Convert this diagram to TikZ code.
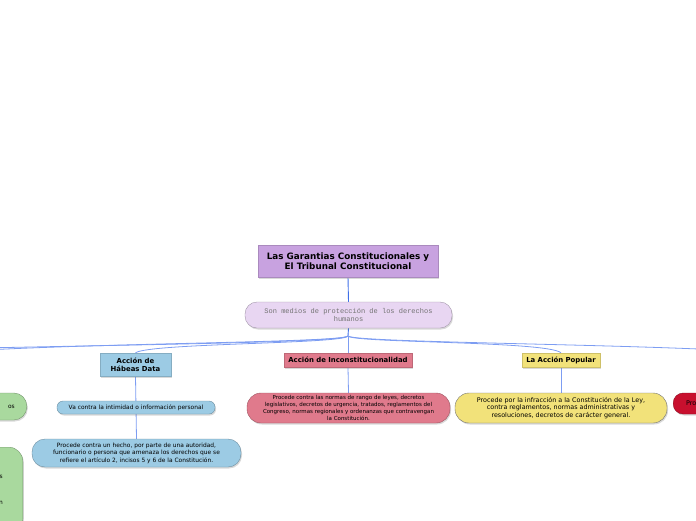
\documentclass[tikz,border=0pt]{standalone}
\usepackage{fontspec}
\setmainfont{DejaVu Sans}
\newfontfamily\medmono{Liberation Mono}
\usetikzlibrary{shadows,backgrounds}

\definecolor{titlepurple}{HTML}{C8A2E0}
\definecolor{palepurple}{HTML}{E8D6F2}
\definecolor{skyblue}{HTML}{9CCBE4}
\definecolor{rosered}{HTML}{E07A8C}
\definecolor{sunyellow}{HTML}{F2E27A}
\definecolor{crimson}{HTML}{C8102E}
\definecolor{leafgreen}{HTML}{A9D99E}
\definecolor{linkblue}{HTML}{7D9DF2}
\definecolor{stemblue}{HTML}{3F6FE8}

\tikzset{
  soft shadow/.style={drop shadow={opacity=.3, shadow xshift=1pt, shadow yshift=-1.5pt}},
  maintopic/.style={rectangle, fill=titlepurple, draw=titlepurple!85!black, thin,
    font=\fontsize{8.8}{10.5}\selectfont\bfseries, align=center, inner sep=0pt,
    minimum width=180pt, minimum height=32pt, soft shadow},
  subtopic/.style={rectangle, fill=#1, draw=#1!85!black, thin,
    font=\fontsize{6.9}{8}\selectfont\bfseries, align=center, inner sep=0pt, soft shadow},
  detail/.style={fill=#1, draw=#1!70!black, thin, align=center, inner sep=0pt, soft shadow},
  link/.style={draw=linkblue, line width=.8pt},
  stem/.style={draw=stemblue, line width=.9pt}
}

\begin{document}
\begin{tikzpicture}[x=1pt, y=-1pt]
  \useasboundingbox (0,0) rectangle (696,520);
  \clip (0,0) rectangle (696,520);

  % central topic
  \node[maintopic] (title) at (348,261) {Las Garantias Constitucionales y\\El Tribunal Constitucional};
  \node[detail=palepurple, rounded corners=12pt, minimum width=207pt, minimum height=26pt,
        font=\medmono\fontsize{7}{8}\selectfont, text=black!55] (medios) at (348.5,315)
        {Son medios de protección de los derechos\\humanos};
  \coordinate (hub) at (348,336);

  % branches
  \node[subtopic=skyblue, minimum width=71pt, minimum height=23pt] (habeas) at (135.5,364.5) {Acción de\\Hábeas Data};
  \node[subtopic=rosered, minimum width=128pt, minimum height=14pt] (inconst) at (348,360) {Acción de Inconstitucionalidad};
  \node[subtopic=sunyellow, minimum width=78pt, minimum height=14pt] (popular) at (561,360) {La Acción Popular};

  % details
  \node[detail=skyblue, rounded corners=6pt, minimum width=158pt, minimum height=13pt,
        font=\fontsize{5.9}{7}\selectfont] (intimidad) at (136,407.5)
        {Va contra la intimidad o información personal};
  \node[detail=skyblue, rounded corners=13pt, minimum width=209pt, minimum height=28pt,
        font=\fontsize{5.9}{7.5}\selectfont] (hecho) at (136.5,453)
        {Procede contra un hecho, por parte de una autoridad,\\funcionario o persona que amenaza los derechos que se\\refiere el artículo 2, incisos 5 y 6 de la Constitución.};
  \node[detail=rosered, rounded corners=14pt, minimum width=203pt, minimum height=30pt,
        font=\fontsize{5.5}{6.8}\selectfont] (normas) at (348.5,408)
        {Procede contra las normas de rango de leyes, decretos\\legislativos, decretos de urgencia, tratados, reglamentos del\\Congreso, normas regionales y ordenanzas que contravengan\\la Constitución.};
  \node[detail=sunyellow, draw=black!55, rounded corners=14pt, minimum width=212pt, minimum height=30pt,
        font=\fontsize{6.4}{7.7}\selectfont] (infraccion) at (561,408)
        {Procede por la infracción a la Constitución de la Ley,\\contra reglamentos, normas administrativas y\\resoluciones, decretos de carácter general.};

  % nodes cut by the frame
  \node[detail=crimson, rounded corners=10pt, anchor=west, minimum height=21pt, text width=100pt,
        align=left, inner xsep=13pt, font=\fontsize{6.4}{7.5}\selectfont] (procede) at (673,403.5) {Procede};
  \node[detail=leafgreen, rounded corners=13pt, anchor=east, minimum height=27pt, text width=80pt,
        align=right, inner xsep=12pt, font=\fontsize{5.9}{7}\selectfont] (greenA) at (27,406.5) {os};
  \node[detail=leafgreen, rounded corners=14pt, anchor=north east, minimum height=86pt, text width=80pt,
        align=right, inner xsep=20pt, font=\fontsize{5.9}{7}\selectfont] (greenB) at (23,447) {s\\[19pt]n};

  \coordinate (offA) at (-60,353);
  \coordinate (offB) at (-220,353);
  \coordinate (offC) at (770,353);

  % connectors
  \begin{scope}[on background layer]
    \draw[stem] (title.south) -- (medios.north);
    \draw[stem] (medios.south) -- (hub);
    \draw[link] (hub) .. controls (344,344) and (150,343) .. (habeas.north);
    \draw[link] (hub) .. controls (342,343) and (60,343) .. (offA);
    \draw[link] (hub) .. controls (340,344) and (40,345) .. (offB);
    \draw[link] (hub) -- (inconst.north);
    \draw[link] (hub) .. controls (352,343) and (548,341) .. (popular.north);
    \draw[link] (hub) .. controls (356,343) and (660,344) .. (offC);
    \draw[link] (habeas.south) -- (hecho.north);
    \draw[link] (inconst.south) -- (normas.north);
    \draw[link] (popular.south) -- (infraccion.north);
  \end{scope}
\end{tikzpicture}
\end{document}
